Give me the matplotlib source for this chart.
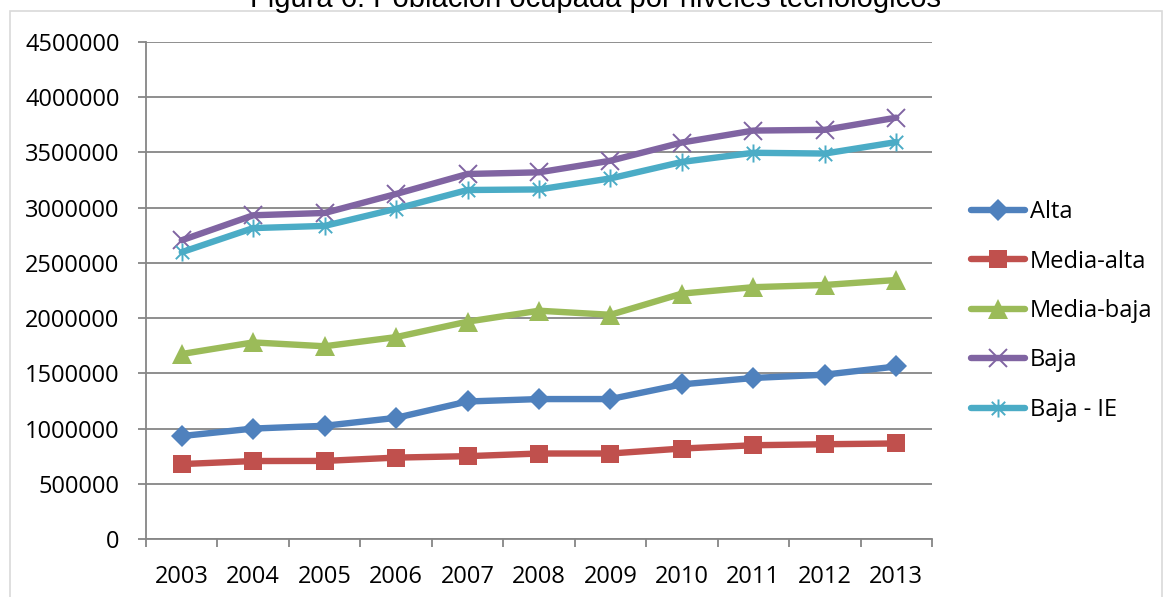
import matplotlib
matplotlib.use("Agg")
import matplotlib.pyplot as plt
from matplotlib.path import Path
from matplotlib.patches import Rectangle
import numpy as np

years = ["2003", "2004", "2005", "2006", "2007", "2008", "2009", "2010", "2011", "2012", "2013"]
alta = [932000, 1000000, 1025000, 1097000, 1245000, 1267000, 1267000, 1400000, 1458000, 1488000, 1562000]
media_alta = [678000, 706000, 707000, 737000, 750000, 774000, 774000, 819000, 849000, 858000, 865000]
media_baja = [1675000, 1780000, 1745000, 1828000, 1968000, 2067000, 2030000, 2222000, 2280000, 2300000, 2345000]
baja = [2705000, 2931000, 2952000, 3124000, 3305000, 3320000, 3425000, 3590000, 3698000, 3705000, 3815000]
baja_ie = [2597000, 2815000, 2835000, 2990000, 3160000, 3165000, 3265000, 3414000, 3497000, 3490000, 3594000]
series_names = ["Alta", "Media-alta", "Media-baja", "Baja", "Baja - IE"]
yticks = [0, 500000, 1000000, 1500000, 2000000, 2500000, 3000000, 3500000, 4000000, 4500000]
title = "Figura 6: Población ocupada por niveles tecnológicos"

W, H = 1167, 597
fig = plt.figure(figsize=(W / 100, H / 100), dpi=100)
fig.patch.set_facecolor("white")

# outer chart border
fig.patches.append(Rectangle((10 / W, -0.05), (1162 - 10) / W, 1 - 11 / H + 0.05,
                             transform=fig.transFigure, fill=False,
                             edgecolor="#d9d9d9", linewidth=1.2))

fig.text(596 / W, 1 - 7 / H, title, ha="center", va="baseline",
         fontsize=21, family="Liberation Sans", color="black")

left, right, top, bottom = 146, 932, 42, 539
ax = fig.add_axes([left / W, 1 - bottom / H, (right - left) / W, (bottom - top) / H])

x = np.arange(len(years))
star = Path([(-1, -1), (1, 1), (-1, 1), (1, -1), (0, -1.35), (0, 1.35)],
            [Path.MOVETO, Path.LINETO, Path.MOVETO, Path.LINETO, Path.MOVETO, Path.LINETO])

styles = [
    dict(color="#4F81BD", marker="D", markersize=11.5, markeredgewidth=0),
    dict(color="#C0504D", marker="s", markersize=12.5, markeredgewidth=0),
    dict(color="#9BBB59", marker="^", markersize=14, markeredgewidth=0),
    dict(color="#8064A2", marker="x", markersize=13, markeredgewidth=1.4),
    dict(color="#4BACC6", marker=star, markersize=13, markeredgewidth=1.4),
]
data = [alta, media_alta, media_baja, baja, baja_ie]
for name, vals, st in zip(series_names, data, styles):
    ax.plot(x, vals, linewidth=4.6, label=name, solid_capstyle="round",
            solid_joinstyle="round", **st)

ax.set_xlim(-0.5, len(years) - 0.5)
ax.set_ylim(0, 4500000)
ax.set_yticks(yticks)
ax.set_yticklabels([str(v) for v in yticks])
ax.set_xticks(x)
ax.set_xticklabels(years)
ax.set_xticks(np.arange(-0.5, len(years), 1.0), minor=True)

for s in ["top", "right"]:
    ax.spines[s].set_visible(False)
for s in ["left", "bottom"]:
    ax.spines[s].set_color("#868686")
    ax.spines[s].set_linewidth(1.3)

ax.yaxis.grid(True, color="#868686", linewidth=1.3)
ax.set_axisbelow(True)

ax.tick_params(axis="y", direction="out", length=6, width=1.3, color="#868686",
               pad=13, labelsize=17, labelcolor="black")
ax.tick_params(axis="x", which="major", length=0, pad=19, labelsize=17, labelcolor="black")
ax.tick_params(axis="x", which="minor", direction="out", length=6, width=1.3, color="#868686")
for lab in ax.get_xticklabels() + ax.get_yticklabels():
    lab.set_family("Open Sans")

leg = fig.legend(loc="upper left", bbox_to_anchor=(971 / W, 1 - 200 / H),
                 frameon=False, prop={"family": "Open Sans", "size": 17},
                 handlelength=2.3, handletextpad=0.2, labelspacing=1.08,
                 borderaxespad=0, borderpad=0)

fig.savefig("out.png", dpi=100)
